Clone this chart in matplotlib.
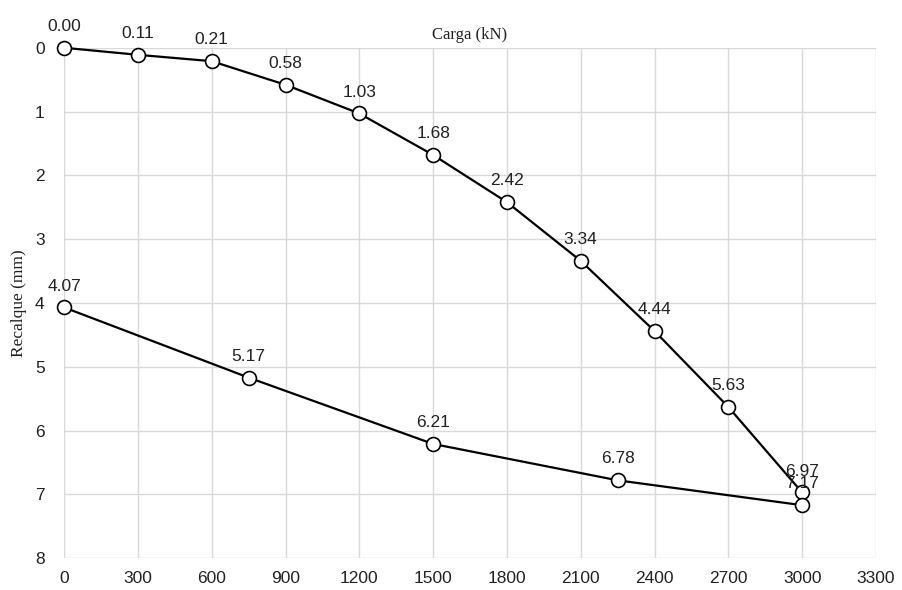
import matplotlib
matplotlib.use("Agg")
import matplotlib.pyplot as plt

# ensaio de carga - carregamento e descarregamento
carga_load = [0, 300, 600, 900, 1200, 1500, 1800, 2100, 2400, 2700, 3000]
recalque_load = [0.00, 0.11, 0.21, 0.58, 1.03, 1.68, 2.42, 3.34, 4.44, 5.63, 6.97]
carga_unload = [3000, 2250, 1500, 750, 0]
recalque_unload = [7.17, 6.78, 6.21, 5.17, 4.07]
x_ticks = list(range(0, 3301, 300))
y_ticks = list(range(0, 9))

plt.rcParams['font.family'] = ['Liberation Sans', 'DejaVu Sans']

fig = plt.figure(figsize=(9.03, 5.90), dpi=100)
ax = fig.add_axes([0.071, 0.054, 0.899, 0.865])

style = dict(color='black', lw=1.6, marker='o', markersize=10,
             markerfacecolor='white', markeredgecolor='black',
             markeredgewidth=1.2, clip_on=False, zorder=3,
             solid_joinstyle='round')
ax.plot(carga_load, recalque_load, **style)
ax.plot(carga_unload, recalque_unload, **style)

for x, y in zip(carga_load, recalque_load):
    ax.annotate(f'{y:.2f}', (x, y), xytext=(0, 10), textcoords='offset points',
                ha='center', va='bottom', fontsize=12.5, color='#222222')
for x, y in zip(carga_unload, recalque_unload):
    ax.annotate(f'{y:.2f}', (x, y), xytext=(0, 10), textcoords='offset points',
                ha='center', va='bottom', fontsize=12.5, color='#222222')

ax.set_xlim(0, 3300)
ax.set_ylim(8, 0)
ax.set_xticks(x_ticks)
ax.set_yticks(y_ticks)
ax.tick_params(length=0, labelsize=12.5, colors='#222222')
ax.tick_params(axis='y', pad=14)
ax.tick_params(axis='x', pad=9)
ax.grid(True, color='#d9d9d9', lw=1)
ax.set_axisbelow(True)
for s in ax.spines.values():
    s.set_visible(False)

ax.set_title('Carga (kN)', family=['Liberation Serif', 'DejaVu Serif'],
             fontsize=12, pad=6, color='#222222')
ax.set_ylabel('Recalque (mm)', family=['Liberation Serif', 'DejaVu Serif'],
              fontsize=12.5, labelpad=6, color='#222222')

fig.savefig('out.png', dpi=100)
